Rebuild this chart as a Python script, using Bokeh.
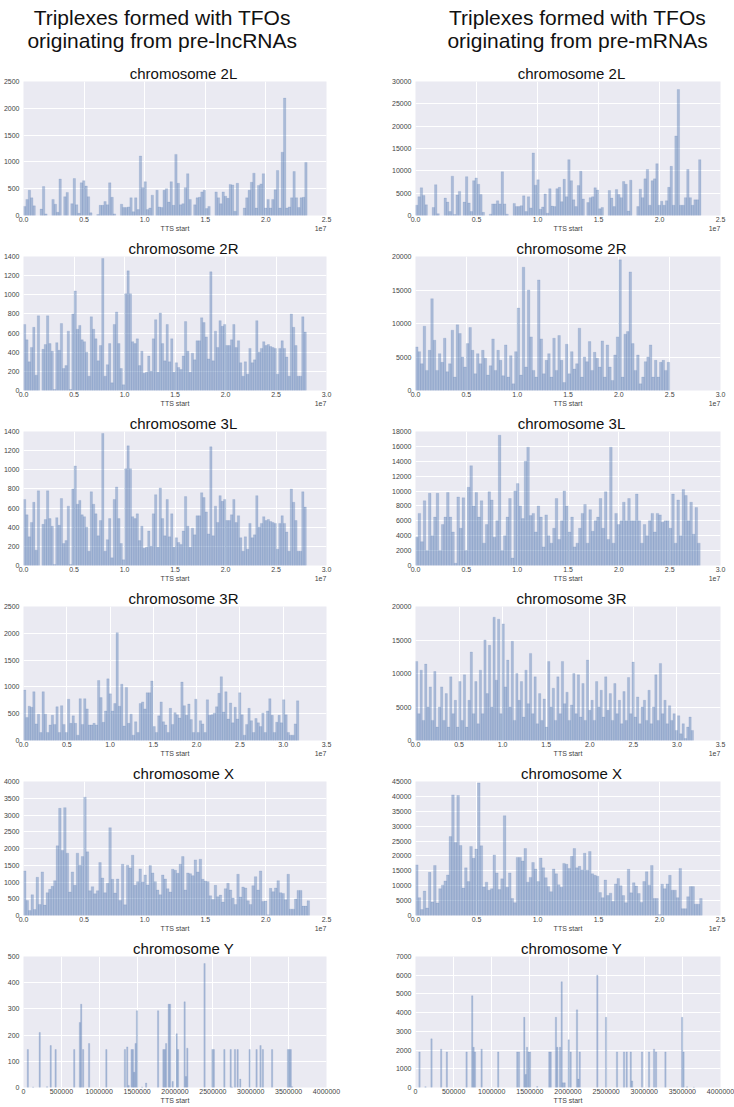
import numpy as np
from bokeh.plotting import figure
from bokeh.models import Title, Range1d, FixedTicker, CustomJSTickFormatter, ColumnDataSource, LinearAxis
from bokeh.core.properties import value
from bokeh.layouts import row, column
from bokeh.embed import file_html
from bokeh.resources import INLINE

FONT = "Liberation Sans"
BAR = "#4C72B0"
BG = "#EAEAF2"
TXT = "#444444"

# ---------------- data (histogram bin counts) ----------------
lnc_2L_end = 2.34e7
lnc_2L = [170, 300, 470, 330, 180, 0, 0, 120, 540, 30, 0, 0, 300, 210, 60, 680, 0, 350, 430, 0,
          220, 690, 200, 40, 610, 650, 550, 350, 50, 0, 0, 20, 190, 190, 260, 200, 610, 340, 30, 0,
          0, 210, 150, 150, 160, 330, 70, 330, 110, 1110, 520, 630, 110, 140, 380, 0, 470, 160, 150, 470,
          500, 250, 630, 190, 1140, 600, 200, 220, 520, 780, 300, 0, 200, 330, 340, 440, 470, 130, 170, 0,
          0, 440, 330, 220, 440, 360, 320, 580, 570, 80, 600, 0, 0, 140, 330, 470, 620, 790, 140, 560,
          590, 780, 140, 300, 140, 300, 480, 840, 140, 1180, 2190, 140, 160, 330, 820, 330, 150, 330, 340, 990]

lnc_2R_end = 2.80e7
lnc_2R = [690, 530, 300, 450, 660, 160, 780, 0, 430, 480, 780, 490, 410, 10, 500, 420, 700, 230, 260, 620,
          10, 800, 1040, 640, 680, 530, 510, 400, 150, 770, 640, 540, 310, 470, 1380, 150, 270, 490, 80, 690,
          820, 490, 230, 60, 1010, 1250, 1010, 510, 490, 540, 260, 410, 180, 190, 360, 200, 540, 740, 190, 810,
          490, 310, 690, 300, 540, 190, 290, 240, 220, 360, 720, 410, 190, 390, 320, 520, 520, 760, 710, 560,
          330, 1240, 310, 620, 450, 730, 670, 690, 470, 470, 530, 690, 450, 520, 290, 150, 300, 170, 440, 290,
          320, 730, 400, 440, 510, 470, 480, 460, 450, 440, 170, 440, 520, 440, 350, 150, 800, 660, 470, 150,
          150, 770, 610]

lnc_3L_end = 2.80e7
lnc_3L = [690, 530, 300, 450, 660, 160, 780, 0, 430, 480, 780, 490, 410, 10, 500, 420, 700, 230, 260, 620,
          10, 800, 1040, 640, 680, 530, 510, 400, 150, 770, 640, 540, 310, 470, 1380, 150, 270, 490, 80, 690,
          820, 490, 230, 60, 1010, 1250, 1010, 510, 490, 540, 260, 410, 180, 190, 360, 200, 540, 740, 190, 810,
          490, 310, 690, 300, 540, 190, 290, 240, 220, 360, 720, 410, 190, 390, 320, 520, 520, 760, 710, 560,
          330, 1240, 310, 620, 450, 730, 670, 690, 470, 470, 530, 690, 450, 520, 290, 150, 300, 170, 440, 290,
          320, 730, 400, 440, 510, 470, 480, 460, 450, 440, 170, 440, 520, 440, 350, 150, 800, 660, 470, 150,
          150, 770, 610]

lnc_3R_end = 3.18e7
lnc_3R = [940, 430, 640, 620, 910, 310, 490, 150, 910, 490, 150, 290, 470, 300, 630, 150, 650, 300, 150, 770,
          320, 460, 320, 100, 780, 300, 780, 590, 290, 290, 320, 290, 1120, 800, 340, 550, 1150, 870, 550, 690,
          2010, 640, 1050, 270, 990, 320, 490, 100, 350, 150, 690, 720, 590, 890, 890, 1110, 260, 150, 460, 720,
          350, 290, 150, 600, 300, 520, 480, 420, 1090, 650, 470, 680, 390, 150, 770, 150, 370, 310, 150, 760,
          470, 480, 510, 630, 880, 1190, 530, 910, 400, 700, 330, 620, 400, 890, 480, 100, 300, 600, 370, 150,
          410, 330, 260, 510, 150, 550, 780, 470, 150, 340, 470, 330, 760, 480, 150, 100, 100, 310, 740]

lnc_X_end = 2.36e7
lnc_X = [1330, 450, 150, 620, 180, 1140, 330, 1300, 310, 680, 780, 870, 1040, 2080, 3200, 1940, 3220, 1860, 700, 1300,
         900, 1860, 1500, 1760, 3530, 1900, 740, 860, 650, 740, 1580, 1120, 680, 960, 2620, 1080, 670, 1090, 450, 1530,
         320, 1500, 1420, 1800, 900, 1010, 1390, 1000, 1210, 910, 1490, 1270, 1010, 760, 620, 1210, 1090, 800, 700, 1380,
         1350, 1260, 1530, 1760, 760, 1270, 1250, 1190, 1660, 1300, 1680, 1080, 1030, 1010, 590, 480, 900, 560, 610, 400,
         800, 960, 760, 520, 330, 1230, 550, 850, 820, 440, 330, 890, 1160, 760, 1330, 420, 430, 20, 810, 710,
         820, 1040, 680, 660, 470, 1230, 190, 190, 490, 750, 750, 280, 280, 440]

lnc_Y_binw = 18000
lnc_Y_pos = [57000, 127000, 214000, 311000, 359000, 424000, 670000, 744000, 762000, 788000, 866000, 1094000,
             1339000, 1370000, 1388000, 1427000, 1445000, 1462000, 1480000, 1498000, 1566000, 1619000, 1777000,
             1847000, 1865000, 1883000, 1917000, 1935000, 1969000, 2022000, 2040000, 2127000, 2145000, 2163000,
             2390000, 2495000, 2513000, 2652000, 2735000, 2753000, 2792000, 2827000, 2862000, 2985000, 3077000,
             3129000, 3160000, 3282000, 3492000, 3510000, 3528000, 3546000]
lnc_Y = [145, 2, 210, 3, 160, 145, 145, 248, 318, 145, 168, 145,
         145, 155, 8, 145, 145, 58, 168, 293, 2, 17, 293,
         145, 145, 168, 318, 318, 23, 205, 145, 327, 42, 150,
         473, 145, 145, 145, 145, 2, 145, 145, 32, 145, 145,
         160, 145, 145, 145, 145, 145, 3]

m_2L_end = 2.34e7
m_2L = [2300, 4200, 6200, 4500, 2400, 0, 0, 1800, 6900, 400, 0, 0, 3900, 3000, 900, 8800, 200, 4600, 5400, 0,
        3000, 8700, 2800, 900, 7800, 8400, 7000, 4700, 700, 0, 0, 300, 2600, 2600, 3300, 2600, 9800, 2600, 300, 0,
        0, 2700, 2000, 2000, 2200, 4400, 900, 4200, 1700, 14000, 6800, 8000, 1400, 1900, 4800, 500, 6000, 2100, 2000, 6000,
        6300, 3100, 8100, 4200, 12500, 7800, 3500, 2000, 6700, 9900, 3700, 0, 2900, 4000, 4200, 6200, 5700, 1500, 1800, 0,
        0, 5600, 3900, 2000, 5800, 4700, 4000, 7600, 7000, 1000, 7900, 0, 0, 2000, 5900, 4000, 8200, 10300, 2300, 7800,
        8200, 11600, 2300, 3200, 2300, 3300, 6300, 11000, 2300, 17800, 28200, 2300, 2300, 4000, 10300, 4000, 2300, 3500, 3500, 12500]

m_2R_end = 2.50e7
m_2R = [6500, 5800, 4000, 9600, 3000, 6000, 13700, 7500, 3000, 5500, 4200, 7800, 2800, 4000, 9000, 2000, 9800, 8500, 5000, 3500,
        7000, 9400, 6000, 2500, 5500, 4000, 6000, 4800, 2300, 3700, 7700, 3000, 6000, 4500, 2200, 6800, 2000, 5200, 1000, 5800,
        12300, 2300, 18400, 3500, 15000, 8000, 3000, 2000, 16500, 7700, 2500, 4500, 5500, 2000, 7800, 3000, 8200, 4500, 1200, 6900,
        2500, 5800, 3200, 4000, 9300, 2000, 5000, 4300, 7300, 3000, 5700, 4800, 3500, 7400, 2000, 6800, 3500, 1500, 5300, 8000,
        19500, 2000, 8400, 8800, 17700, 7000, 3000, 5300, 1000, 2000, 4300, 5000, 6800, 2000, 4500, 2000, 4200, 4500, 3000, 4200]

m_3L_end = 2.80e7
m_3L = [3800, 7000, 3200, 8700, 2000, 9700, 4000, 6500, 9700, 2000, 5500, 6500, 9800, 6500, 4500, 300, 9200, 5000, 9100, 2000, 10500,
        13400, 8000, 9800, 6500, 8700, 3000, 5500, 9900, 8800, 3800, 6000, 17500, 2000, 4000, 6500, 9000, 1000, 10000, 11000, 8000, 6300,
        14000, 15900, 6700, 7000, 4500, 8000, 6500, 2500, 6800, 4000, 3000, 5000, 9000, 3500, 6000, 10000, 8000, 4500, 6500, 2500,
        3000, 5000, 7000, 8200, 3000, 7500, 4600, 6000, 6500, 9000, 5000, 9900, 3500, 15900, 3000, 7000, 5500, 6000, 8500, 6000,
        9000, 6000, 6000, 9600, 6000, 3000, 5500, 4000, 6000, 7000, 4500, 7000, 6800, 5800, 6000, 6000, 5000, 9600, 3000, 8800,
        4000, 10200, 9400, 6000, 8500, 4200, 7800, 3000]

m_3R_end = 3.19e7
m_3R = [11800, 4000, 10500, 3000, 11400, 5000, 8000, 3000, 10300, 2000, 5000, 8000, 3000, 7000, 2000, 9500, 4000, 6000, 2000, 8800,
        3000, 9800, 2000, 6000, 13200, 4000, 8800, 2500, 10500, 4000, 15000, 7000, 14200, 5000, 18400, 9000, 18100, 4000, 17400, 8000,
        12000, 5000, 14800, 3000, 10000, 6000, 8800, 3500, 10500, 5500, 13000, 4000, 9500, 2500, 7000, 3000, 6200, 2000, 11800, 5000,
        7800, 3000, 9500, 4000, 11800, 5500, 7200, 3000, 5300, 10000, 4000, 9800, 3500, 8500, 3000, 12000, 4500, 6000, 3000, 8800,
        5000, 7500, 3500, 9500, 4500, 7000, 3000, 8500, 4000, 6000, 2500, 7300, 3000, 9400, 4000, 11700, 3500, 6500, 2500, 5000,
        6000, 3000, 7500, 2500, 5000, 9800, 3000, 11500, 4000, 6000, 2500, 5200, 3000, 4000, 1500, 3700, 1000, 2500, 300, 2000, 3500, 1500]

m_X_end = 2.35e7
m_X = [17000, 6000, 2000, 8200, 2500, 14500, 4500, 16800, 4200, 9000, 10200, 11600, 13600, 26500, 40500, 24500, 40300, 23500, 9200, 16000,
       11400, 23200, 19200, 22300, 44500, 23400, 9600, 11200, 8500, 9000, 20300, 14300, 8700, 12300, 33500, 9500, 14300, 5700, 4300, 19500,
       19500, 18300, 22500, 11200, 12800, 17800, 15600, 11400, 19300, 16000, 12700, 9700, 8000, 15600, 14000, 10300, 9500, 17500, 17200, 15800,
       19900, 22500, 16000, 16500, 15300, 20900, 15200, 21500, 14000, 13500, 13200, 7700, 6000, 11900, 6700, 7500, 4700, 10600, 12400, 10000,
       6700, 4300, 15500, 7600, 11000, 9900, 7400, 4400, 11400, 14700, 10200, 16800, 5700, 5700, 300, 10500, 9000, 10600, 13500, 8500,
       8500, 6000, 15800, 2300, 2300, 6300, 9700, 9700, 3800, 3800, 5700]

m_Y_binw = 18000
m_Y_pos = [52500, 131000, 210000, 337000, 411000, 670000, 744000, 762000, 780000, 867000, 1085000, 1335000, 1357000,
           1427000, 1445000, 1463000, 1484000, 1502000, 1597000, 1755000, 1773000, 1842000, 1860000, 1895000, 1917000,
           1935000, 1956000, 2009000, 2035000, 2118000, 2136000, 2154000, 2385000, 2499000, 2643000, 2735000, 2770000,
           2823000, 2841000, 2971000, 3063000, 3129000, 3155000, 3278000, 3497000, 3515000, 3562000, 3650000]
m_Y = [1900, 40, 2600, 2050, 1900, 1900, 4900, 2150, 1900, 2050, 1900, 1900, 1900,
       3750, 700, 2150, 1900, 1900, 50, 1900, 1900, 3750, 2150, 2150, 5650,
       250, 250, 2550, 1900, 4150, 450, 1900, 6000, 3750, 1900, 1900, 1900,
       1900, 350, 1900, 1900, 2050, 1900, 1900, 3750, 1900, 40, 20]

chromosomes = ["2L", "2R", "3L", "3R", "X", "Y"]
x_max = [2.5e7, 3.0e7, 3.0e7, 3.5e7, 2.5e7, 4.0e6]
x_step = [0.5e7, 0.5e7, 0.5e7, 0.5e7, 0.5e7, 5.0e5]
lnc_y_max = [2500, 1400, 1400, 2500, 4000, 500]
lnc_y_step = [500, 200, 200, 500, 500, 100]
m_y_max = [30000, 20000, 18000, 20000, 45000, 7000]
m_y_step = [5000, 5000, 2000, 5000, 5000, 1000]
lnc_hist = [(lnc_2L, lnc_2L_end), (lnc_2R, lnc_2R_end), (lnc_3L, lnc_3L_end), (lnc_3R, lnc_3R_end), (lnc_X, lnc_X_end)]
m_hist = [(m_2L, m_2L_end), (m_2R, m_2R_end), (m_3L, m_3L_end), (m_3R, m_3R_end), (m_X, m_X_end)]
headers = {"lnc": ["Triplexes formed with TFOs", "originating from pre-lncRNAs"],
           "m": ["Triplexes formed with TFOs", "originating from pre-mRNAs"]}
x_label = "TTS start"
x_offset_text = "1e7"

# ---------------- layout constants ----------------
FIG_W = 367
FRAME_W = 305
BORDERS = {"lnc": (21, 41), "m": (48, 14)}
TITLE_CENTER = {"lnc": 160, "m": 156}      # title centre measured from frame left
HEADER_CENTER = {"lnc": 168, "m": 195}
HEADER_H = 62
PANEL_TOP = 17
FRAME_H = 136

# Arial/Liberation Sans advance widths (per 1000 em) for title width estimate
_W = {"c": 500, "h": 556, "r": 333, "o": 556, "m": 833, "s": 500, "e": 556, " ": 278,
      "2": 556, "3": 556, "L": 556, "R": 722, "X": 667, "Y": 667}


def text_width(s, size):
    return sum(_W.get(ch, 556) for ch in s) * size / 1000.0


def make_header(side):
    p = figure(width=FIG_W, height=HEADER_H, x_range=Range1d(0, FIG_W), y_range=Range1d(HEADER_H, 0),
               output_backend="svg", toolbar_location=None, title=None,
               x_axis_location=None, y_axis_location=None, min_border=0)
    p.grid.visible = False
    p.outline_line_color = None
    p.background_fill_color = "white"
    l1, l2 = headers[side]
    p.text(x=[HEADER_CENTER[side], HEADER_CENTER[side]], y=[17, 40], text=[l1, l2],
           text_font=value(FONT), text_font_size="21px", text_align="center",
           text_baseline="alphabetic", text_color="#111111")
    return p


def style_axis(ax, standoff):
    ax.axis_line_color = None
    ax.major_tick_line_color = None
    ax.minor_tick_line_color = None
    ax.major_tick_out = 0
    ax.major_tick_in = 0
    ax.major_label_text_font = FONT
    ax.major_label_text_font_size = "7px"
    ax.major_label_text_color = TXT
    ax.major_label_standoff = standoff


def make_panel(i, side):
    last = (i == 5)
    bl, br = BORDERS[side]
    if side == "lnc":
        ymax, ystep = lnc_y_max[i], lnc_y_step[i]
    else:
        ymax, ystep = m_y_max[i], m_y_step[i]
    frame_h = FRAME_H - (1 if last else 0)
    bottom = 17 if last else 22
    h = PANEL_TOP + frame_h + bottom
    p = figure(width=FIG_W, height=h, x_range=Range1d(0, x_max[i]), y_range=Range1d(0, ymax),
               output_backend="svg", toolbar_location=None, title=None,
               min_border_left=bl, min_border_right=br,
               min_border_top=PANEL_TOP, min_border_bottom=bottom)
    p.background_fill_color = BG
    p.border_fill_color = "white"
    p.outline_line_color = None
    p.grid.grid_line_color = "white"
    p.grid.grid_line_width = 1

    if chromosomes[i] == "Y":
        pos = np.array(lnc_Y_pos if side == "lnc" else m_Y_pos, dtype=float)
        cnt = np.array(lnc_Y if side == "lnc" else m_Y, dtype=float)
        w = lnc_Y_binw if side == "lnc" else m_Y_binw
        left, right = pos - w / 2, pos + w / 2
    else:
        counts, end = (lnc_hist if side == "lnc" else m_hist)[i]
        cnt = np.array(counts, dtype=float)
        edges = np.linspace(0, end, len(cnt) + 1)
        left, right = edges[:-1], edges[1:]
    keep = cnt > 0
    src = ColumnDataSource(dict(left=left[keep], right=right[keep], top=cnt[keep]))
    p.quad(left="left", right="right", bottom=0, top="top", source=src,
           fill_color=BAR, fill_alpha=0.4, line_color=BAR, line_alpha=0.3, line_width=0.5)

    xt = list(np.arange(0, x_max[i] + 1, x_step[i]))
    yt = list(np.arange(0, ymax + 1, ystep))
    p.xaxis.ticker = FixedTicker(ticks=xt)
    p.yaxis.ticker = FixedTicker(ticks=yt)
    if chromosomes[i] == "Y":
        p.xaxis.formatter = CustomJSTickFormatter(code="return tick.toFixed(0);")
    else:
        p.xaxis.formatter = CustomJSTickFormatter(code="return (tick/1e7).toFixed(1);")
    p.yaxis.formatter = CustomJSTickFormatter(code="return tick.toFixed(0);")
    style_axis(p.xaxis[0], 1)
    style_axis(p.yaxis[0], 4)

    # second row under the tick labels: axis title in the middle, offset text "1e7" at the right end
    center = x_max[i] / 2.0
    row_ticks = [center]
    if chromosomes[i] != "Y":
        row_ticks.append(x_max[i] * (1 - 6.0 / FRAME_W))
    ax2 = LinearAxis(ticker=FixedTicker(ticks=row_ticks),
                     formatter=CustomJSTickFormatter(
                         args=dict(c=center, lab=x_label, off=x_offset_text),
                         code="return Math.abs(tick - c) < 1 ? lab : off;"))
    style_axis(ax2, 0)
    p.add_layout(ax2, "below")

    ttl = "chromosome " + chromosomes[i]
    off = TITLE_CENTER[side] - text_width(ttl, 15) / 2.0
    p.add_layout(Title(text=ttl, align="left", offset=off, text_font=FONT,
                       text_font_size="15px", text_font_style="normal", text_color="#111111",
                       standoff=0), "above")
    return p


left_col = column(make_header("lnc"), *[make_panel(i, "lnc") for i in range(6)])
right_col = column(make_header("m"), *[make_panel(i, "m") for i in range(6)])
layout = row(left_col, right_col)

open("out.html", "w").write(file_html(layout, INLINE, title="Triplexes"))
